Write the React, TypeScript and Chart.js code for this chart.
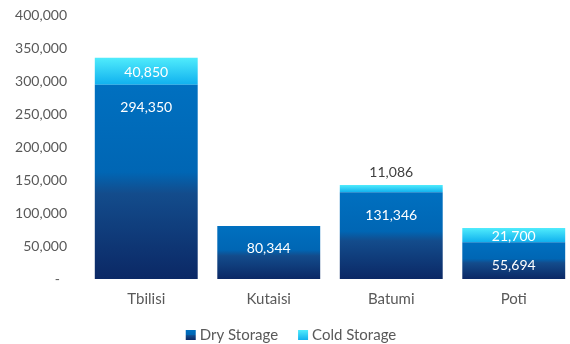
import React, { useEffect, useRef } from "react";
import { Chart, registerables } from "chart.js";

Chart.register(...registerables);

const categories = ["Tbilisi", "Kutaisi", "Batumi", "Poti"];
const dryStorage = [294350, 80344, 131346, 55694];
const coldStorage = [40850, 0, 11086, 21700];
const coldStorageShown = [40850, null, 11086, 21700];
const seriesNames = ["Dry Storage", "Cold Storage"];
const yMax = 400000;
const yStep = 50000;

const FONT = "Lato";
const TEXT = "#595959";

function dryGradient(ctx: CanvasRenderingContext2D, top: number, bottom: number) {
  const g = ctx.createLinearGradient(0, top, 0, bottom);
  g.addColorStop(0, "#0070C0");
  g.addColorStop(0.45, "#0066B4");
  g.addColorStop(0.56, "#134C8C");
  g.addColorStop(1, "#0B2865");
  return g;
}
function coldGradient(ctx: CanvasRenderingContext2D, top: number, bottom: number) {
  const g = ctx.createLinearGradient(0, top, 0, bottom);
  g.addColorStop(0, "#50ECFC");
  g.addColorStop(1, "#10B0EE");
  return g;
}

const fmt = (v: number) => v.toLocaleString("en-US");

const labelsPlugin = {
  id: "customLabels",
  afterDatasetsDraw(chart: any) {
    const ctx = chart.ctx as CanvasRenderingContext2D;
    ctx.save();
    ctx.font = `14px ${FONT}`;
    ctx.textAlign = "center";
    ctx.textBaseline = "middle";
    const m0 = chart.getDatasetMeta(0);
    m0.data.forEach((bar: any, i: number) => {
      ctx.fillStyle = "#FFFFFF";
      ctx.fillText(fmt(dryStorage[i]), bar.x, bar.y + 23);
    });
    const m1 = chart.getDatasetMeta(1);
    m1.data.forEach((bar: any, i: number) => {
      const v = coldStorage[i];
      if (!v) return;
      const h = bar.base - bar.y;
      if (h < 10) {
        ctx.fillStyle = "#404040";
        ctx.fillText(fmt(v), bar.x, bar.y - 13);
      } else {
        ctx.fillStyle = "#FFFFFF";
        ctx.fillText(fmt(v), bar.x, (bar.y + bar.base) / 2 + 1);
      }
    });
    ctx.restore();
  },
  afterDraw(chart: any) {
    const ctx = chart.ctx as CanvasRenderingContext2D;
    ctx.save();
    ctx.font = `15px ${FONT}`;
    ctx.textBaseline = "middle";
    ctx.textAlign = "left";
    const box = 10;
    const gapBoxText = 4;
    const gapItems = 20;
    const widths = seriesNames.map((n) => ctx.measureText(n).width);
    const total = widths.reduce((a, w) => a + box + gapBoxText + w, 0) + gapItems;
    let x = 291 - total / 2;
    const yc = 335;
    seriesNames.forEach((n, i) => {
      const top = yc - box / 2;
      ctx.fillStyle = i === 0 ? dryGradient(ctx, top, top + box) : coldGradient(ctx, top, top + box);
      ctx.fillRect(x, top, box, box);
      ctx.fillStyle = TEXT;
      ctx.fillText(n, x + box + gapBoxText, yc);
      x += box + gapBoxText + widths[i] + gapItems;
    });
    ctx.restore();
  },
};

export default function App() {
  const ref = useRef<HTMLCanvasElement | null>(null);
  useEffect(() => {
    if (!ref.current) return;
    const chart = new Chart(ref.current, {
      type: "bar",
      data: {
        labels: categories,
        datasets: [
          {
            label: seriesNames[0],
            data: dryStorage,
            backgroundColor: (c: any) => {
              const ch = c.chart;
              if (!ch.chartArea || c.dataIndex === undefined) return "#0070C0";
              const y = ch.scales.y;
              const top = y.getPixelForValue(dryStorage[c.dataIndex]);
              const bottom = y.getPixelForValue(0);
              return dryGradient(ch.ctx, top, bottom);
            },
            borderWidth: 0,
            barPercentage: 0.84,
            categoryPercentage: 1,
          },
          {
            label: seriesNames[1],
            data: coldStorageShown,
            backgroundColor: (c: any) => {
              const ch = c.chart;
              if (!ch.chartArea || c.dataIndex === undefined) return "#30D0F6";
              const y = ch.scales.y;
              const i = c.dataIndex;
              const top = y.getPixelForValue(dryStorage[i] + coldStorage[i]);
              const bottom = y.getPixelForValue(dryStorage[i]);
              return coldGradient(ch.ctx, top, bottom);
            },
            borderWidth: 0,
            barPercentage: 0.84,
            categoryPercentage: 1,
          },
        ],
      },
      options: {
        animation: false,
        responsive: false,
        maintainAspectRatio: false,
        layout: { padding: { top: 15, right: 1, left: 0, bottom: 0 } },
        plugins: {
          legend: { display: false },
          tooltip: { enabled: false },
        },
        scales: {
          x: {
            stacked: true,
            grid: { display: false, drawTicks: false },
            border: { display: false },
            ticks: { color: TEXT, font: { family: FONT, size: 15 }, padding: 11 },
            afterFit: (s: any) => {
              s.height = 65;
            },
          },
          y: {
            stacked: true,
            min: 0,
            max: yMax,
            grid: { display: false, drawTicks: false },
            border: { display: false },
            ticks: {
              stepSize: yStep,
              color: TEXT,
              font: { family: FONT, size: 14 },
              padding: 18,
              callback: (v: any) => (Number(v) === 0 ? "-  " : fmt(Number(v))),
            },
            afterFit: (s: any) => {
              s.width = 85;
              s.paddingTop = 0;
              s.paddingBottom = 0;
            },
          },
        },
      },
      plugins: [labelsPlugin],
    });
    return () => chart.destroy();
  }, []);
  return (
    <div style={{ position: "fixed", left: 0, top: 0, width: 570, height: 344, overflow: "hidden", background: "#fff" }}>
      <canvas ref={ref} width={576} height={344} style={{ display: "block", width: 576, height: 344 }} />
    </div>
  );
}
